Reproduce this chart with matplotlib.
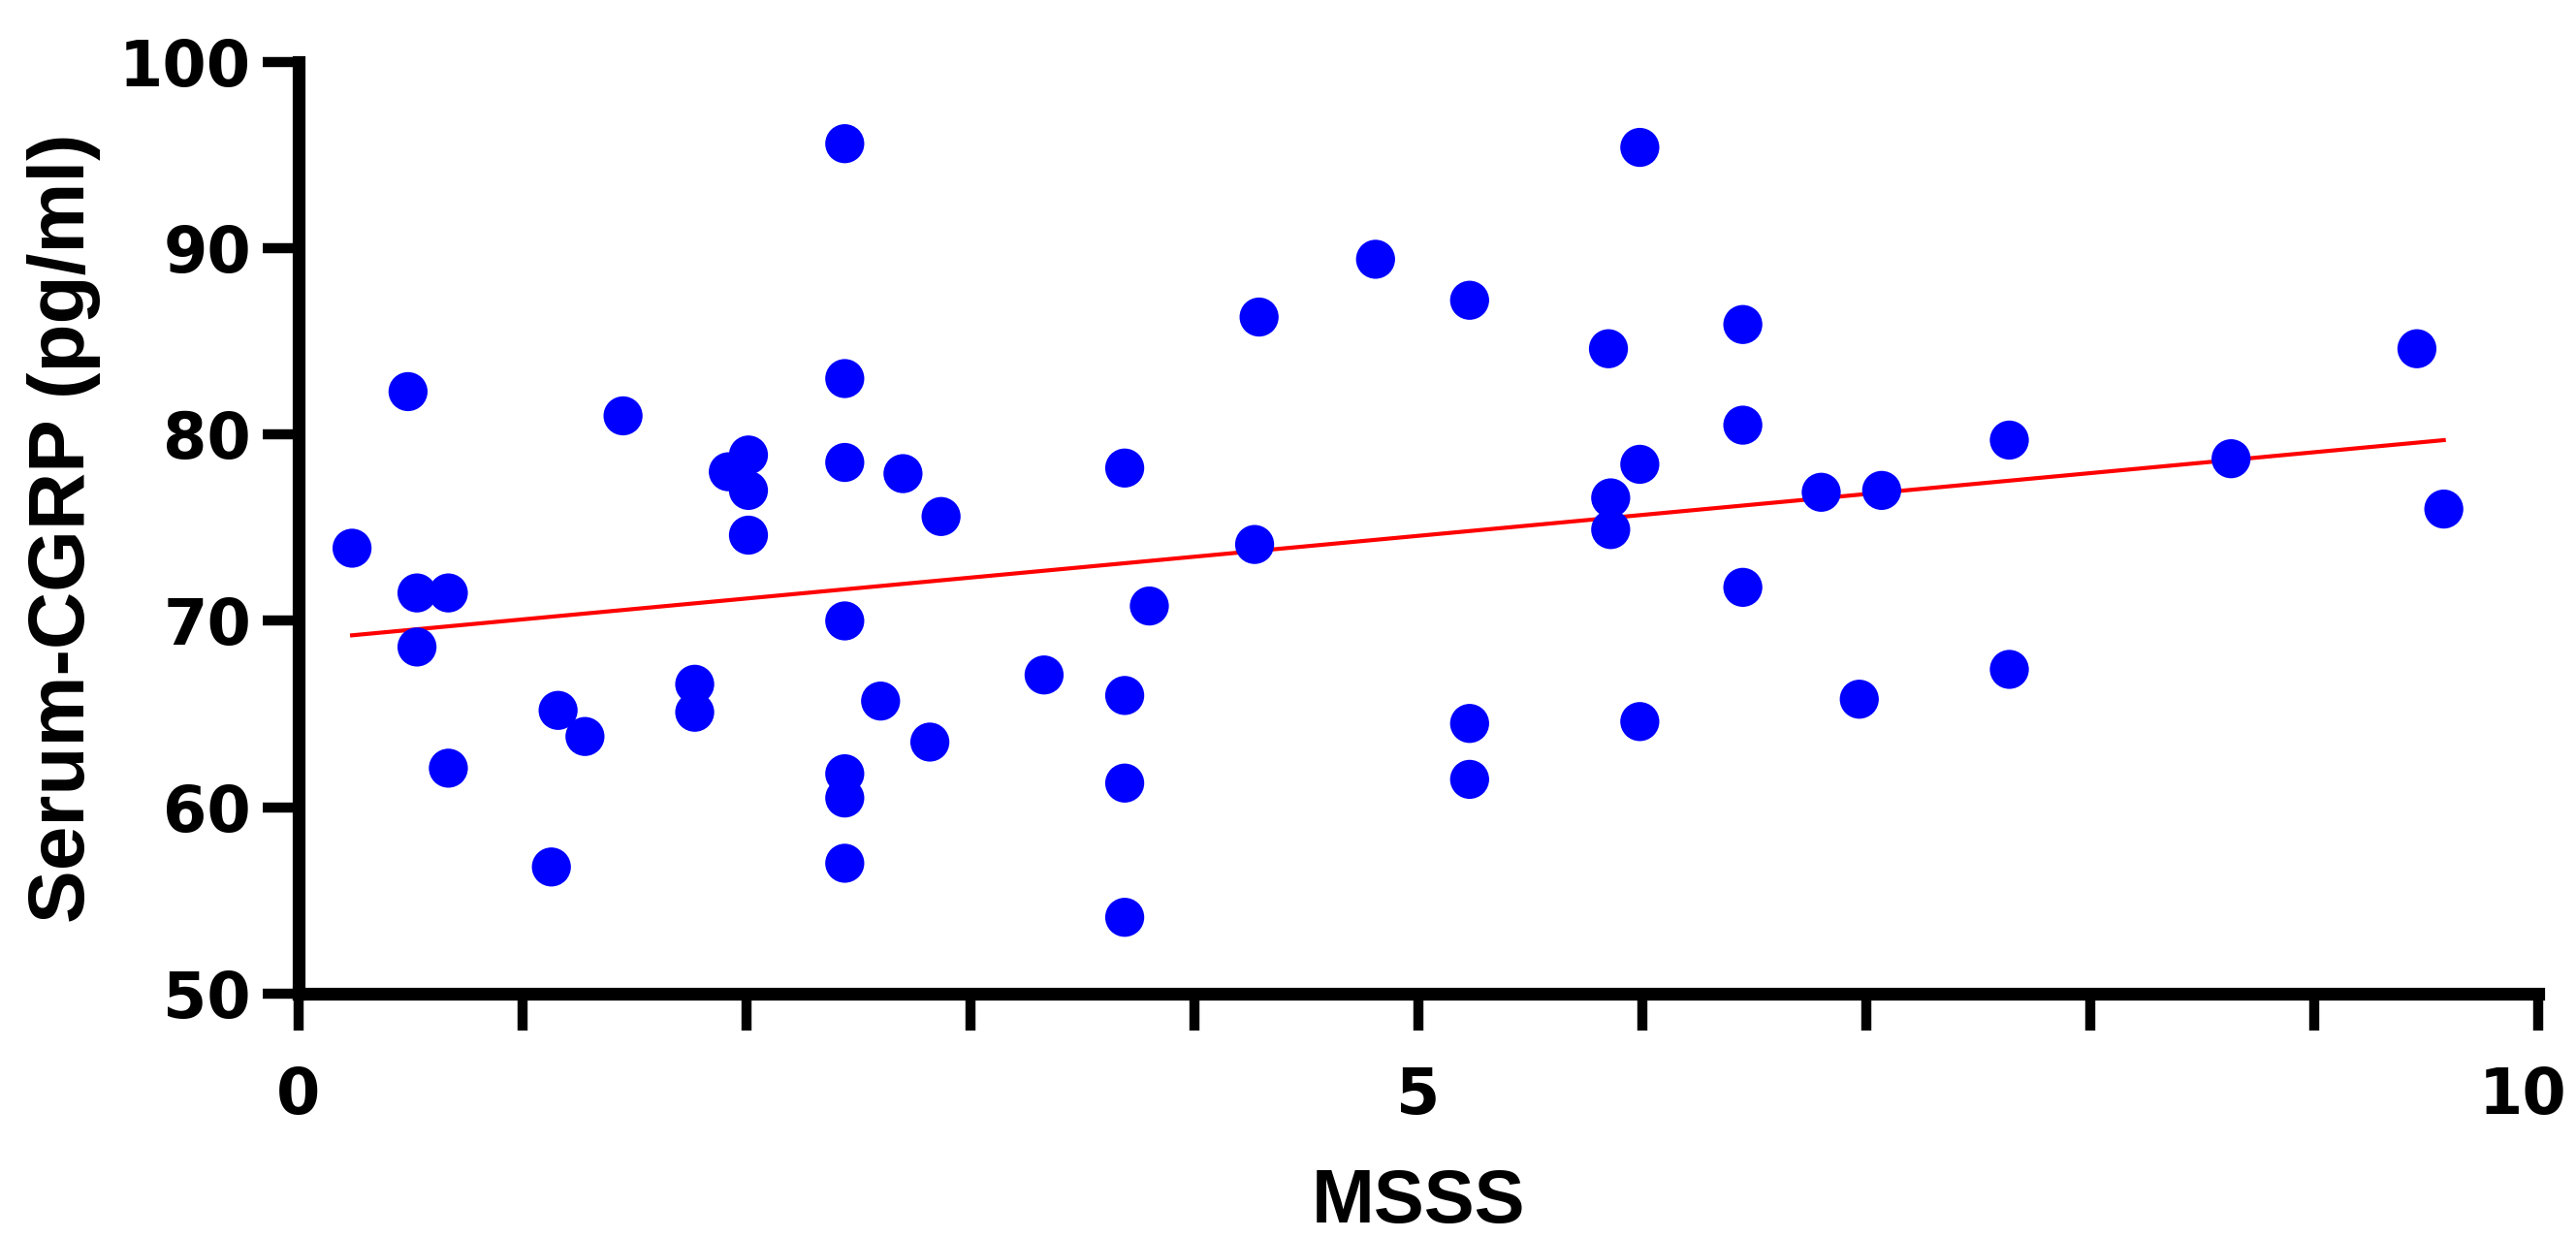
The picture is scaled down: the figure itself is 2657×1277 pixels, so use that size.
import numpy as np
import matplotlib.pyplot as plt
import matplotlib.transforms as mtransforms

# MSSS scores and serum CGRP (pg/ml)
msss = [0.24, 0.49, 0.53, 0.53, 0.67, 0.67, 1.13, 1.16, 1.28, 1.45,
        1.77, 1.77, 1.92, 2.01, 2.01, 2.01, 2.44, 2.44, 2.44, 2.44,
        2.44, 2.44, 2.44, 2.60, 2.70, 2.82, 2.87, 3.33, 3.69, 3.69,
        3.69, 3.69, 3.80, 4.27, 4.29, 4.81, 5.23, 5.23, 5.23, 5.85,
        5.86, 5.86, 5.99, 5.99, 5.99, 6.45, 6.45, 6.45, 6.80, 6.97,
        7.07, 7.64, 7.64, 8.63, 9.46, 9.58]
cgrp = [73.9, 82.3, 71.5, 68.6, 71.5, 62.1, 56.8, 65.2, 63.8, 81.0,
        66.6, 65.1, 78.0, 78.9, 77.0, 74.6, 95.6, 83.0, 78.5, 70.0,
        61.8, 60.5, 57.0, 65.7, 77.9, 63.5, 75.6, 67.1, 78.2, 66.0,
        61.3, 54.1, 70.8, 74.1, 86.3, 89.4, 87.2, 64.5, 61.5, 84.6,
        76.6, 74.9, 95.4, 78.4, 64.6, 85.9, 80.5, 71.8, 76.9, 65.8,
        77.0, 79.7, 67.4, 78.7, 84.6, 76.0]

x_ticks = [0, 5, 10]
y_ticks = [50, 60, 70, 80, 90, 100]

x = np.array(msss)
y = np.array(cgrp)
slope, intercept = np.polyfit(x, y, 1)
fit_x = np.array([x.min(), x.max()])
fit_y = slope * fit_x + intercept

fig = plt.figure(figsize=(26.57, 12.77), dpi=100)
ax = fig.add_axes([0.1158, 0.1973, 0.8694, 0.7529])

ax.plot(fit_x, fit_y, color='red', linewidth=3, zorder=2)
ax.scatter(x, y, s=29 ** 2, color='#0000FF', edgecolors='none', zorder=3)

ax.set_xlim(0, 10)
ax.set_ylim(50, 100)
ax.set_xticks(x_ticks)
ax.set_xticks(np.arange(0, 11), minor=True)
ax.set_yticks(y_ticks)

for side in ['top', 'right']:
    ax.spines[side].set_visible(False)
for side in ['left', 'bottom']:
    ax.spines[side].set_linewidth(9.5)

ax.tick_params(axis='both', which='both', direction='out', length=27,
               width=7.5, color='black')
ax.tick_params(axis='x', which='major', pad=26)
ax.tick_params(axis='y', which='major', pad=8)

for lab in ax.get_xticklabels() + ax.get_yticklabels():
    lab.set_fontfamily('DejaVu Sans')
    lab.set_fontweight('bold')
    lab.set_fontsize(47)

# keep the "10" inside the figure edge
last = ax.get_xticklabels()[-1]
last.set_transform(last.get_transform() +
                   mtransforms.ScaledTranslation(-0.16, 0, fig.dpi_scale_trans))

ax.set_xlabel('MSSS', fontsize=56, fontweight='bold',
              family=['Liberation Sans', 'DejaVu Sans'], labelpad=30)
ax.set_ylabel('Serum-CGRP (pg/ml)', fontsize=59, fontweight='bold',
              family=['Liberation Sans Narrow', 'Liberation Sans', 'DejaVu Sans'],
              labelpad=14)

fig.savefig('out.png', dpi=100)
